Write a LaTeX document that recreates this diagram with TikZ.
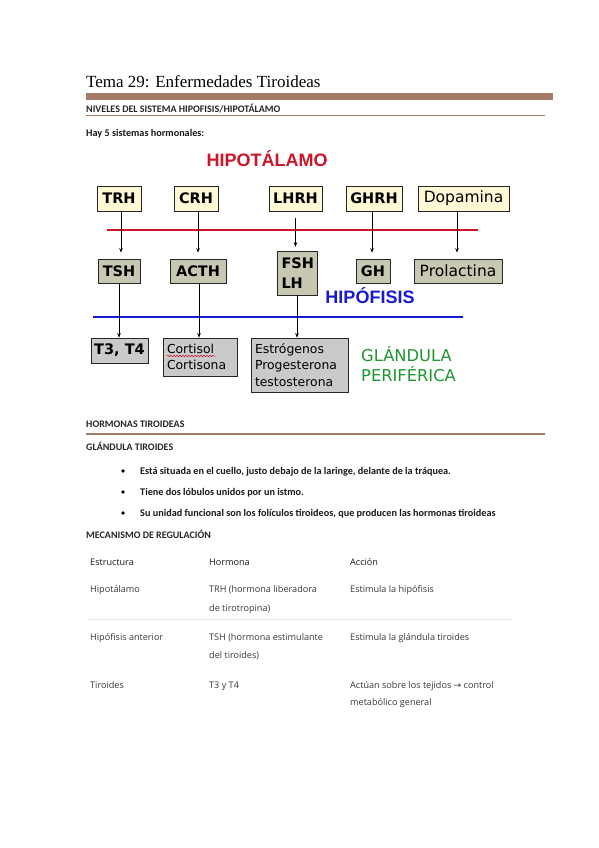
\documentclass[tikz,border=0pt]{standalone}
\usepackage{fontspec}
\setmainfont{Carlito}
\newfontfamily\titlefont{Liberation Serif}
\newfontfamily\boldsans{Liberation Sans}
\newfontfamily\comic{DejaVu Sans}
\newfontfamily\tablefont{Open Sans}
\newfontfamily\arrowfont{DejaVu Sans}
\usetikzlibrary{arrows.meta,decorations.pathmorphing}

\definecolor{brownbar}{RGB}{165,122,104}
\definecolor{hipored}{RGB}{205,20,40}
\definecolor{hipoblue}{RGB}{25,25,210}
\definecolor{perigreen}{RGB}{30,150,45}
\definecolor{cream}{RGB}{255,248,212}
\definecolor{khaki}{RGB}{200,200,178}
\definecolor{lgray}{RGB}{202,202,202}

\begin{document}
\begin{tikzpicture}[x=1pt,y=-1pt,
  hboxbase/.style={draw=black!85, line width=0.7pt, inner sep=0pt},
  topbox/.style={hboxbase, fill=cream, minimum height=25pt,
    font=\comic\bfseries\fontsize{14.5}{17}\selectfont},
  midbox/.style={hboxbase, fill=khaki, minimum height=24pt,
    font=\comic\bfseries\fontsize{14.5}{17}\selectfont},
  lowbox/.style={hboxbase, fill=lgray, align=left,
    font=\comic\fontsize{12.4}{16.3}\selectfont},
  wordfont/.style={font=\comic\fontsize{15.5}{17}\selectfont},
  arr/.style={-{Stealth[length=4.5pt,width=3.6pt]}, line width=0.9pt, black},
  txt/.style={anchor=base west, inner sep=0pt},
  head/.style={txt, font=\bfseries\fontsize{10}{12}\selectfont, text=black!85},
  body/.style={txt, font=\bfseries\fontsize{10.2}{12}\selectfont, text=black!90},
  tabh/.style={txt, font=\tablefont\fontsize{9.1}{11}\selectfont, text=black!90},
  tabb/.style={txt, font=\tablefont\fontsize{9.1}{11}\selectfont, text=black!78},
  bigtitle/.style={anchor=base, inner sep=0pt, font=\boldsans\bfseries\fontsize{18}{20}\selectfont}
]
\fill[white] (0,0) rectangle (599,848);
\useasboundingbox (0,0) rectangle (599,848);

% ---------- header ----------
\node[txt, font=\titlefont\fontsize{17}{20}\selectfont] (title) at (86,88) {Tema 29: Enfermedades Tiroideas};
\fill[brownbar] (86,93) rectangle (553,100);
\node[head] (niveles) at (86,113) {NIVELES DEL SISTEMA HIPOFISIS/HIPOTÁLAMO};
\draw[brownbar, line width=1.1pt] (86,115.5) -- (545,115.5);
\node[body] (hay) at (86,136) {Hay 5 sistemas hormonales:};

% ---------- diagram ----------
\node[bigtitle, text=hipored] (hipot) at (267,166.5) {HIPOTÁLAMO};

\node[topbox, minimum width=44pt] (trh) at (119,198.5) {TRH};
\node[topbox, minimum width=44pt] (crh) at (196,198.5) {CRH};
\node[topbox, minimum width=53pt] (lhrh) at (295.5,198.5) {LHRH};
\node[topbox, minimum width=56pt] (ghrh) at (374,198.5) {GHRH};
\node[topbox, wordfont, minimum width=91pt] (dopa) at (463.5,198.5) {Dopamina};

\coordinate (r1) at (107,230);
\coordinate (r2) at (478,230);
\draw[hipored, line width=1.4pt] (r1) -- (r2);

\node[midbox, minimum width=42pt] (tsh) at (119,271) {TSH};
\node[midbox, minimum width=56pt] (acth) at (198,271) {ACTH};
\node[midbox, minimum width=40pt, minimum height=44pt, align=left, text width=31pt,
      font=\comic\bfseries\fontsize{14.5}{20}\selectfont] (fsh) at (297,273) {FSH\\LH};
\node[midbox, minimum width=34pt] (gh) at (373,271) {GH};
\node[midbox, wordfont, minimum width=88pt] (prl) at (458,271) {Prolactina};

\node[bigtitle, text=hipoblue] (hipof) at (370,303.5) {HIPÓFISIS};

\coordinate (b1) at (93,317);
\coordinate (b2) at (463,317);
\draw[hipoblue, line width=1.5pt] (b1) -- (b2);

\node[lowbox, minimum width=57pt, minimum height=25pt, align=center,
      font=\comic\bfseries\fontsize{14.5}{17}\selectfont] (t34) at (119.5,350.5) {T3, T4};
\node[lowbox, minimum width=74pt, minimum height=38pt, text width=66pt] (cort) at (200,357) {Cortisol\\Cortisona};
\node[lowbox, minimum width=97pt, minimum height=54pt, text width=89pt] (estr) at (299.5,365) {Estrógenos\\Progesterona\\testosterona};
\draw[hipored, line width=0.5pt, decorate, decoration={snake, amplitude=0.7pt, segment length=3pt}]
  (167,356) -- (215,356);

\node[txt, text=perigreen, font=\comic\fontsize{16.3}{20}\selectfont] (peri1) at (361,361) {GLÁNDULA};
\node[txt, text=perigreen, font=\comic\fontsize{16.3}{20}\selectfont] (peri2) at (361,381) {PERIFÉRICA};

% arrows top -> middle
\draw[arr, shorten >=6pt] ([xshift=2pt]trh.south) -- ([xshift=2pt]trh.south |- tsh.north);
\draw[arr, shorten >=6pt] ([xshift=2pt]crh.south) -- ([xshift=2pt]crh.south |- acth.north);
\draw[arr, shorten <=7pt, shorten >=4pt] (lhrh.south) -- (lhrh.south |- fsh.north);
\draw[arr, shorten >=6pt] ([xshift=-2pt]ghrh.south) -- ([xshift=-2pt]ghrh.south |- gh.north);
\draw[arr, shorten >=6pt] ([xshift=-6.5pt]dopa.south) -- ([xshift=-6.5pt]dopa.south |- prl.north);

% arrows middle -> bottom
\draw[arr] (tsh.south) -- (tsh.south |- t34.north);
\draw[arr] ([xshift=1pt]acth.south) -- ([xshift=1pt]acth.south |- cort.north);
\draw[arr] (fsh.south) -- (fsh.south |- estr.north);

% ---------- hormonas tiroideas ----------
\node[head] (horm) at (86,427) {HORMONAS TIROIDEAS};
\draw[brownbar, line width=1.1pt] (86,434) -- (545,434);
\node[head] (glt) at (86,450) {GLÁNDULA TIROIDES};

\fill (123,471) circle (1.8pt);
\fill (123,492) circle (1.8pt);
\fill (123,513) circle (1.8pt);
\node[body] (l1) at (140,474) {Está situada en el cuello, justo debajo de la laringe, delante de la tráquea.};
\node[body] (l2) at (140,495) {Tiene dos lóbulos unidos por un istmo.};
\node[body] (l3) at (140,516) {Su unidad funcional son los folículos tiroideos, que producen las hormonas tiroideas};

\node[head] (meca) at (86,538) {MECANISMO DE REGULACIÓN};

% ---------- table ----------
\node[tabh] (h1) at (90,565) {Estructura};
\node[tabh] (h2) at (209,565) {Hormona};
\node[tabh] (h3) at (350,565) {Acción};

\node[tabb] (c11) at (90,592) {Hipotálamo};
\node[tabb] (c12) at (209,592) {TRH (hormona liberadora};
\node[tabb] (c12b) at (209,611) {de tirotropina)};
\node[tabb] (c13) at (350,592) {Estimula la hipófisis};

\draw[black!10, line width=0.6pt] (88,619) -- (513,619);

\node[tabb] (c21) at (90,640) {Hipófisis anterior};
\node[tabb] (c22) at (209,640) {TSH (hormona estimulante};
\node[tabb] (c22b) at (209,658) {del tiroides)};
\node[tabb] (c23) at (350,640) {Estimula la glándula tiroides};

\node[tabb] (c31) at (90,688) {Tiroides};
\node[tabb] (c32) at (209,688) {T3 y T4};
\node[tabb] (c33) at (350,688) {Actúan sobre los tejidos {\arrowfont→} control};
\node[tabb] (c33b) at (350,705) {metabólico general};
\end{tikzpicture}
\end{document}
